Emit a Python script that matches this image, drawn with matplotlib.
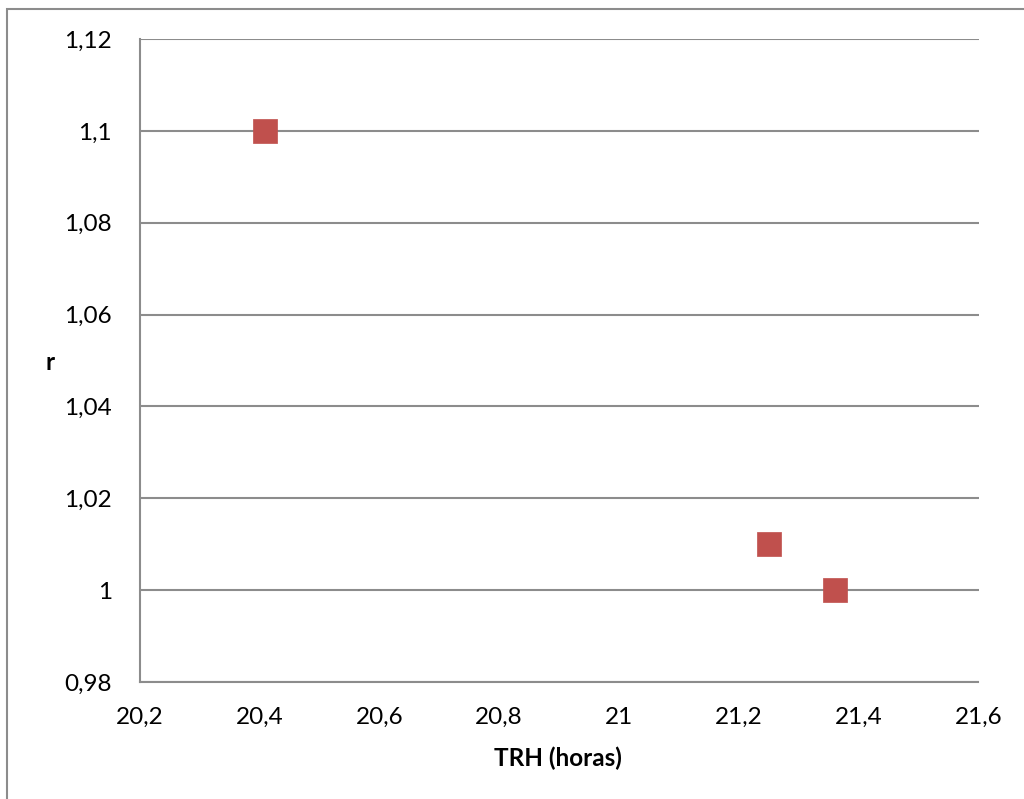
import matplotlib
matplotlib.use("Agg")
import matplotlib.pyplot as plt
from matplotlib.patches import Rectangle
from matplotlib.ticker import FixedLocator, FixedFormatter

# Data
trh_horas = [20.41, 21.25, 21.36]
r_values = [1.10, 1.01, 1.00]

x_ticks = [20.2, 20.4, 20.6, 20.8, 21.0, 21.2, 21.4, 21.6]
x_tick_labels = ["20,2", "20,4", "20,6", "20,8", "21", "21,2", "21,4", "21,6"]
y_ticks = [0.98, 1.00, 1.02, 1.04, 1.06, 1.08, 1.10, 1.12]
y_tick_labels = ["0,98", "1", "1,02", "1,04", "1,06", "1,08", "1,1", "1,12"]

plt.rcParams["font.family"] = ["Lato", "DejaVu Sans"]

W, H = 1024, 799
fig = plt.figure(figsize=(W / 100, H / 100), dpi=100)

# Outer chart frame (runs past the right and bottom edges)
fig.patches.append(Rectangle((7 / W, -0.05), (W + 20) / W, 1.05 - 9.5 / H,
                             transform=fig.transFigure, fill=False,
                             edgecolor="#8c8c8c", linewidth=1.5, zorder=0))

ax = fig.add_axes([139.5 / W, 1 - 682 / H, (978.5 - 139.5) / W, (682 - 39) / H])

ax.scatter(trh_horas, r_values, marker="s", s=300, color="#C0504D",
           edgecolors="#C0504D", linewidths=0.5, zorder=3)

ax.set_xlim(x_ticks[0], x_ticks[-1])
ax.set_ylim(y_ticks[0], y_ticks[-1])
ax.xaxis.set_major_locator(FixedLocator(x_ticks))
ax.xaxis.set_major_formatter(FixedFormatter(x_tick_labels))
ax.yaxis.set_major_locator(FixedLocator(y_ticks))
ax.yaxis.set_major_formatter(FixedFormatter(y_tick_labels))

ax.grid(axis="y", color="#8c8c8c", linewidth=1.5, zorder=1)
ax.set_axisbelow(True)
for side in ["top", "right"]:
    ax.spines[side].set_visible(False)
for side in ["left", "bottom"]:
    ax.spines[side].set_color("#8c8c8c")
    ax.spines[side].set_linewidth(1.5)

ax.tick_params(axis="both", length=0, labelsize=17.5, colors="black")
ax.tick_params(axis="y", pad=20)
ax.tick_params(axis="x", pad=18)

fig.text(50 / W, 1 - 363 / H, "r", fontsize=17.5, fontweight="bold",
         ha="center", va="center")
fig.text(558 / W, 1 - 758 / H, "TRH (horas)", fontsize=17.5, fontweight="bold",
         ha="center", va="center")

fig.savefig("out.png", dpi=100, facecolor="white")
